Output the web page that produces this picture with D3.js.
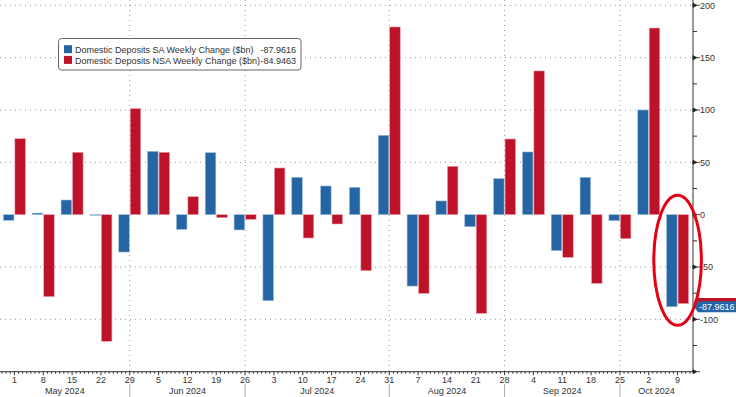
<!DOCTYPE html>
<html>
<head>
<meta charset="utf-8">
<script src="https://cdn.jsdelivr.net/npm/d3@7"></script>
<style>
	body { margin: 0; background: #fff; }
	svg { display: block; font-family: 'Liberation Sans', Arial, sans-serif; }
</style>
</head>
<body>
<svg></svg>
<script>
const weeks = ['2024-05-01','2024-05-08','2024-05-15','2024-05-22','2024-05-29',
	'2024-06-05','2024-06-12','2024-06-19','2024-06-26',
	'2024-07-03','2024-07-10','2024-07-17','2024-07-24','2024-07-31',
	'2024-08-07','2024-08-14','2024-08-21','2024-08-28',
	'2024-09-04','2024-09-11','2024-09-18','2024-09-25',
	'2024-10-02','2024-10-09'];

const saValues = [-5.4, 1.5, 14.0, -0.6, -35.7, 60.5, -14.0, 59.2, -14.6,
	-82.2, 35.7, 27.4, 26.1, 75.8, -68.2, 13.1, -11.5, 34.4,
	59.9, -34.4, 35.7, -5.7, 100.0, -87.9616];

const nsaValues = [72.6, -78.3, 59.6, -121.0, 101.3, 59.6, 17.2, -2.9, -4.5,
	44.6, -22.3, -8.9, -53.5, 179.3, -75.2, 46.2, -94.3, 72.3,
	137.3, -40.8, -65.6, -22.9, 178.3, -84.9463];

const seriesNames = ['Domestic Deposits SA Weekly Change ($bn)', 'Domestic Deposits NSA Weekly Change ($bn)'];
const lastValues = ['-87.9616', '-84.9463'];
const yTicks = [200, 150, 100, 50, 0, -50, -100];
const monthBreaks = ['2024-05-29', '2024-06-26', '2024-07-31', '2024-08-28', '2024-09-25'];
const months = ['May 2024', 'Jun 2024', 'Jul 2024', 'Aug 2024', 'Sep 2024', 'Oct 2024'];

const svg = d3.select('svg')
	.attr('width', 736)
	.attr('height', 397);

const parse = d3.timeParse('%Y-%m-%d');
const blue = '#2565a3', red = '#be1229';

const render = () => {
	const data = weeks.map((w, i) => ({ date: parse(w), sa: saValues[i], nsa: nsaValues[i] }));
	const plotRight = 693, plotBottom = 371.7;

	const xScale = d3.scaleTime()
		.domain([d3.timeHour.offset(data[0].date, -84), d3.timeHour.offset(data[data.length - 1].date, 84)])
		.range([0, 692]);

	const yScale = d3.scaleLinear()
		.domain([-150, 200])
		.range([plotBottom, 5.3]);

	const seriesScale = d3.scaleBand()
		.domain(['sa', 'nsa'])
		.range([-11, 11])
		.paddingInner(0.08);

	// grid
	svg.append('g').selectAll('line')
		.data(yTicks.filter(d => d !== 0))
		.enter().append('line')
			.attr('x1', 0).attr('x2', plotRight)
			.attr('y1', d => yScale(d)).attr('y2', d => yScale(d))
			.attr('stroke', '#9a9a9a')
			.attr('stroke-dasharray', '1,4');

	svg.append('g').selectAll('line')
		.data(monthBreaks.map(parse))
		.enter().append('line')
			.attr('x1', d => xScale(d)).attr('x2', d => xScale(d))
			.attr('y1', 0).attr('y2', plotBottom)
			.attr('stroke', '#9a9a9a')
			.attr('stroke-dasharray', '1,4');

	// bars
	const barG = svg.append('g');
	['sa', 'nsa'].forEach(key => {
		barG.selectAll('rect.' + key)
			.data(data)
			.enter().append('rect')
				.attr('class', key)
				.attr('x', d => xScale(d.date) + seriesScale(key))
				.attr('width', seriesScale.bandwidth())
				.attr('y', d => yScale(Math.max(0, d[key])))
				.attr('height', d => Math.abs(yScale(d[key]) - yScale(0)))
				.attr('fill', key === 'sa' ? blue : red)
				.attr('stroke', key === 'sa' ? '#9cbbdc' : '#eba3ac')
				.attr('stroke-width', 0.6);
	});

	// x axis
	const xAxisG = svg.append('g');
	xAxisG.append('line')
		.attr('x1', 0).attr('x2', plotRight)
		.attr('y1', plotBottom).attr('y2', plotBottom)
		.attr('stroke', '#333');

	const days = d3.timeDay.range(d3.timeDay.offset(data[0].date, -3), d3.timeDay.offset(data[data.length - 1].date, 4));
	xAxisG.selectAll('line.minor')
		.data(days)
		.enter().append('line')
			.attr('class', 'minor')
			.attr('x1', d => xScale(d)).attr('x2', d => xScale(d))
			.attr('y1', plotBottom).attr('y2', d => d.getDay() === 3 ? plotBottom + 3.5 : plotBottom + 2)
			.attr('stroke', '#333');

	xAxisG.selectAll('text.day')
		.data(data)
		.enter().append('text')
			.attr('class', 'day')
			.attr('x', d => xScale(d.date))
			.attr('y', 382.5)
			.attr('text-anchor', 'middle')
			.attr('font-size', 9)
			.attr('fill', '#333')
			.text(d => d3.timeFormat('%-d')(d.date));

	const breaks = [0, ...monthBreaks.map(m => xScale(parse(m))), plotRight];
	xAxisG.selectAll('text.month')
		.data(months)
		.enter().append('text')
			.attr('class', 'month')
			.attr('x', (d, i) => (breaks[i] + breaks[i + 1]) / 2)
			.attr('y', 394)
			.attr('text-anchor', 'middle')
			.attr('font-size', 9)
			.attr('fill', '#333')
			.text(d => d);

	xAxisG.selectAll('line.sep')
		.data(monthBreaks.map(parse))
		.enter().append('line')
			.attr('class', 'sep')
			.attr('x1', d => xScale(d)).attr('x2', d => xScale(d))
			.attr('y1', 384).attr('y2', 397)
			.attr('stroke', '#aaa');

	// y axis on right
	const yAxisG = svg.append('g');
	yAxisG.append('line')
		.attr('x1', plotRight).attr('x2', plotRight)
		.attr('y1', 0).attr('y2', plotBottom)
		.attr('stroke', '#333');

	yAxisG.selectAll('line.minor')
		.data(d3.range(-125, 200, 50))
		.enter().append('line')
			.attr('class', 'minor')
			.attr('x1', plotRight).attr('x2', plotRight + 4)
			.attr('y1', d => yScale(d)).attr('y2', d => yScale(d))
			.attr('stroke', '#333');

	yAxisG.selectAll('path.major')
		.data([...yTicks, -150])
		.enter().append('path')
			.attr('class', 'major')
			.attr('d', d => `M${plotRight},${yScale(d) - 2}L${plotRight + 4},${yScale(d)}L${plotRight},${yScale(d) + 2}Z M${plotRight + 4},${yScale(d)}H${plotRight + 7}`)
			.attr('fill', '#222')
			.attr('stroke', '#222')
			.attr('stroke-width', 0.8);

	yAxisG.selectAll('text')
		.data(yTicks)
		.enter().append('text')
			.attr('x', 700)
			.attr('y', d => yScale(d) + 3.2)
			.attr('font-size', 9)
			.attr('fill', '#333')
			.text(d => d);

	// last value labels (red one sits behind the blue one, only its edge shows)
	const lastG = svg.append('g');
	const last = data[data.length - 1];
	[['nsa', red, null], ['sa', blue, lastValues[0]]].forEach(([key, col, txt]) => {
		const yy = yScale(last[key]);
		lastG.append('path')
			.attr('d', `M${plotRight + 1},${yy}L${plotRight + 5},${yy - 5.5}H736V${yy + 5.5}H${plotRight + 5}Z`)
			.attr('fill', col);
		if (txt) {
			lastG.append('text')
				.attr('x', 699)
				.attr('y', yy + 3.2)
				.attr('font-size', 9)
				.attr('fill', '#fff')
				.text(txt);
		}
	});

	// highlight ellipse
	svg.append('ellipse')
		.attr('cx', xScale(last.date))
		.attr('cy', 260.3)
		.attr('rx', 23.8)
		.attr('ry', 65)
		.attr('fill', 'none')
		.attr('stroke', '#e60012')
		.attr('stroke-width', 3);

	// legend
	const legend = svg.append('g');
	legend.append('rect')
		.attr('x', 58.5).attr('y', 38.5)
		.attr('width', 242.5).attr('height', 31.5)
		.attr('rx', 3)
		.attr('fill', '#fff')
		.attr('stroke', '#666');

	seriesNames.forEach((name, i) => {
		legend.append('rect')
			.attr('x', 64).attr('y', 45.2 + i * 10.7)
			.attr('width', 8).attr('height', 8)
			.attr('fill', i === 0 ? blue : red);
		legend.append('text')
			.attr('x', 75).attr('y', 53.3 + i * 10.7)
			.attr('font-size', 9)
			.attr('fill', '#333')
			.text(name);
		legend.append('text')
			.attr('x', 296).attr('y', 53.3 + i * 10.7)
			.attr('text-anchor', 'end')
			.attr('font-size', 9)
			.attr('fill', '#333')
			.text(lastValues[i]);
	});
};

render();
</script>
</body>
</html>
